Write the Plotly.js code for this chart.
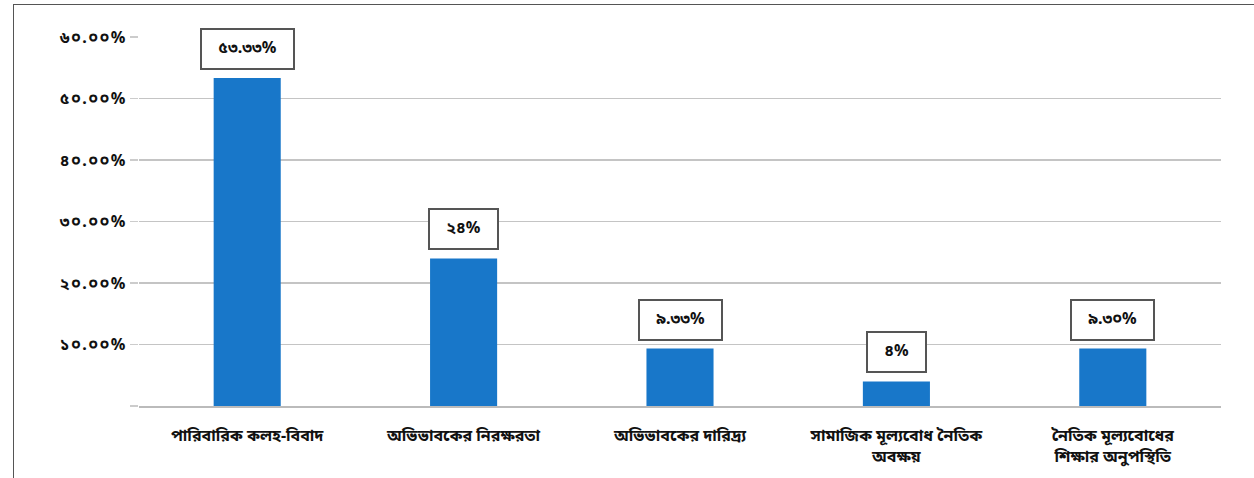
<!DOCTYPE html>
<html><head><meta charset="utf-8">
<script src="https://cdn.plot.ly/plotly-3.0.1.min.js"></script>
<style>
html,body{margin:0;padding:0;background:#fff;}
#frame{position:absolute;left:13px;top:4px;width:1300px;height:520px;border:1.5px solid #555;box-sizing:border-box;pointer-events:none;z-index:5;}
#chart{position:absolute;left:0;top:0;width:1254px;height:478px;}
.ytick text{letter-spacing:1.5px;}
</style></head><body>
<div id="chart"></div><div id="frame"></div>
<script>
const categories = [
  "পারিবারিক কলহ-বিবাদ",
  "অভিভাবকের নিরক্ষরতা",
  "অভিভাবকের দারিদ্র্য",
  "সামাজিক মূল্যবোধ নৈতিক<br>অবক্ষয়",
  "নৈতিক মূল্যবোধের<br>শিক্ষার অনুপস্থিতি"
];
const values = [53.33, 24, 9.33, 4, 9.33];
const valueLabels = ["৫৩.৩৩%", "২৪%", "৯.৩৩%", "৪%", "৯.৩০%"];
const tickVals = [0, 10, 20, 30, 40, 50, 60];
const tickText = ["", "১০.০০%", "২০.০০%", "৩০.০০%", "৪০.০০%", "৫০.০০%", "৬০.০০%"];

const font = "Noto Sans Bengali, Noto Sans, DejaVu Sans, sans-serif";
const data = [{
  type: "bar", x: categories.map(c => "<b>" + c.replace("<br>", "</b><br><b>") + "</b>"), y: values,
  marker: {color: "#1877c9"}, width: 0.31, hoverinfo: "none"
}];
const annotations = values.map((v, i) => ({
  x: i, y: v, xref: "x", yref: "y",
  text: "<b>\u00a0\u00a0" + valueLabels[i] + "\u00a0\u00a0</b>", showarrow: false,
  yanchor: "bottom", yshift: 8,
  font: {family: font, size: 16, color: "#111"},
  bgcolor: "#fff", bordercolor: "#555", borderwidth: 2, borderpad: 8
}));
const layout = {
  width: 1254, height: 478,
  margin: {l: 139, r: 33, t: 37, b: 72},
  paper_bgcolor: "#fff", plot_bgcolor: "#fff",
  showlegend: false, bargap: 0.69,
  font: {family: font, size: 16, color: "#111"},
  xaxis: {
    tickfont: {family: font, size: 16, color: "#111"},
    showline: true, linecolor: "#bbb", linewidth: 1.5,
    ticks: "", showgrid: false, automargin: false, ticklabelstandoff: 14
  },
  yaxis: {
    range: [0, 60], tickvals: tickVals, ticktext: tickText.map(t => t ? "<b>" + t + "</b>" : ""),
    showgrid: true, gridcolor: "#c4c4c4", gridwidth: 1.5, zeroline: false,
    ticks: "outside", ticklen: 8, tickcolor: "#ccc", tickwidth: 1.5,
    tickfont: {family: font, size: 16, color: "#111"}, automargin: false
  },
  annotations: annotations
};
Plotly.newPlot("chart", data, layout, {displayModeBar: false, staticPlot: true});
</script></body></html>
